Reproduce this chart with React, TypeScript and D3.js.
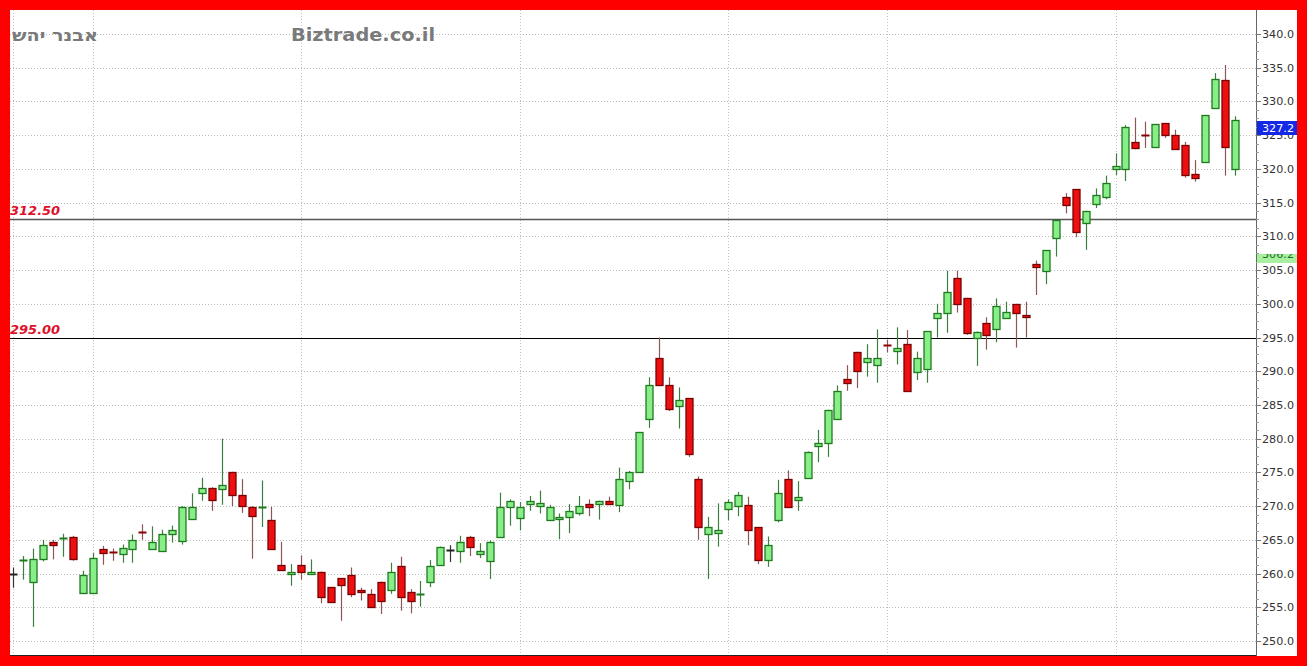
import React from "react";
import * as d3 from "d3";

const opens = [260,261.8,258.8,262.2,264.7,265.1,265.4,257.1,257.1,263.6,263.2,262.9,263.7,266.2,263.7,263.4,265.9,264.8,268.1,272.0,272.7,272.6,275.0,271.7,269.9,269.8,268.0,261.2,260.0,261.2,260.0,260.3,258.0,259.3,259.8,257.5,257.0,258.8,257.6,261.1,257.3,256.9,258.8,261.2,263.5,263.3,265.4,262.9,261.9,265.4,269.8,268.3,270.3,270.0,267.9,268.1,268.4,269.0,270.3,270.3,270.8,270.1,273.7,275.0,282.9,291.9,287.9,284.9,286.0,274.0,265.9,266.0,269.5,270.0,270.2,266.9,262.0,267.9,274.0,270.9,274.1,278.9,279.4,282.9,288.9,292.9,291.3,290.9,293.9,293.0,294.0,289.9,290.4,297.9,298.7,303.8,300.9,294.9,297.2,296.3,297.9,300.0,298.4,305.9,304.9,309.7,315.9,317.0,312.0,314.8,315.8,320.0,320.0,324.0,325.0,323.3,326.8,325.0,323.6,319.3,321.0,329.0,333.2,320.0];
const highs = [260.9,262.6,263.7,265,265,265.9,265.6,260.4,263.1,264.1,263.7,264.3,265.8,267.3,267.0,266.5,267.1,270.0,271.9,274.2,272.8,280.0,275.1,274.0,270.0,273.8,269.9,264.7,261.4,262.7,262.1,260.3,258.0,259.3,260.9,257.9,257.7,258.8,261.6,262.5,257.7,258.9,262.0,264.0,264.2,265.6,265.6,264.5,264.9,272.0,271.0,270.6,271.5,272.3,270.2,268.9,270.3,271.5,271.0,270.8,271.4,275.7,275.2,281.0,289.1,295.0,289.1,287.6,286.0,274.4,268.4,270.4,271.0,272.1,271.4,266.9,265.5,273.9,275.3,273.7,278.1,281.3,284.3,287.9,290.9,292.9,294.0,296.2,294.7,296.5,296.1,292.9,295.9,300.0,304.9,304.9,300.9,295.9,298.0,300.8,300.3,300.0,300.3,306.4,307.9,312.4,316.4,317.0,313.8,317.1,319.0,322.3,326.5,327.6,327.0,326.6,326.8,325.8,324.0,321.3,328.0,334.2,335.4,327.8];
const lows = [257.9,259.1,252.1,261.8,262.1,262.5,261.9,257,257,261.3,261.9,261.6,261.6,265.0,263.6,263.3,264.6,264.3,268.0,270.8,269.3,270.2,270.0,269.0,262.2,266.9,263.5,260.4,258.2,259.1,260.0,255.6,255.7,253.0,256.5,256.0,255.0,254.0,257.0,254.5,254.1,255.1,258.0,261.2,261.7,261.6,262.6,262.3,259.2,265.3,267.1,266.4,269.3,268.9,267.9,265.1,266.0,268.6,268.5,268.0,270.3,269.1,272.5,275.0,281.6,287.9,284.1,281.5,277.3,265.0,259.2,264.0,267.9,268.5,264.2,261.4,261.0,267.6,269.9,269.3,274.1,276.5,277.3,282.9,287.1,287.5,289.2,288.3,292.8,291.0,287.1,288.7,288.3,295.0,295.7,298.7,295.4,290.8,293.2,294.3,297.9,293.5,295.0,301.3,302.9,307.0,313.4,309.9,308.0,314.2,315.5,319.1,318.2,322.9,323.1,323.3,324.6,323.0,318.7,318.1,321.0,329.0,319.0,319.0];
const closes = [260,262,262.1,264.3,264.3,265.3,262.2,259.8,262.3,263.1,263.0,263.8,265.0,266.0,264.7,265.9,266.5,269.9,269.8,272.7,270.9,273.1,271.6,270.0,268.5,269.9,263.6,260.5,260.3,260.2,260.3,256.5,255.8,258.3,256.9,257.2,255.0,255.9,260.3,256.5,256.0,257.0,261.1,264.0,263.5,264.7,264.0,263.3,264.7,269.8,270.7,269.8,270.8,270.5,269.9,268.4,269.3,270.0,269.9,270.8,270.3,274.0,275.0,281.0,287.9,287.9,284.4,285.7,277.7,266.9,266.9,266.5,270.6,271.6,266.4,262.0,264.2,272.0,269.9,271.4,278.0,279.4,284.3,287.0,288.2,290.0,291.9,291.9,293.7,293.5,287.1,291.9,295.9,298.7,301.8,299.9,295.7,295.8,295.4,299.6,298.8,298.6,298.0,305.5,307.9,312.4,314.6,310.7,313.8,316.1,317.9,320.4,326.2,323.1,324.9,326.6,325.0,323.0,319.1,318.6,328.0,333.3,323.3,327.2];

const yTicks = d3.range(250, 341, 5);
const monthStarts = [0, 8, 29, 51, 72, 88, 111];
const levels = [312.5, 295.0];
const lastPrice = 327.2;
const otherPrice = 306.2;

const W = 1307, H = 666;
const plotL = 10, plotR = 1256, plotT = 10, plotB = 655;

export default function App() {
  const n = opens.length;
  const x = d3.scaleLinear().domain([0, n - 1]).range([13.3, 1234.7]);
  const y = d3.scaleLinear().domain([250, 340]).range([641, 34]);
  const minor = d3.range(250, 341.25, 1.25).filter((v) => v % 5 !== 0);
  const bw = 7;
  const lastY = Math.round(y(lastPrice));
  const otherY = Math.round(y(otherPrice));

  return (
    <svg width={W} height={H} style={{ position: "absolute", left: 0, top: 0 }} fontFamily="DejaVu Sans">
      <defs>
        <clipPath id="plot"><rect x={plotL} y={plotT} width={plotR - plotL} height={plotB - plotT} /></clipPath>
        <clipPath id="lab2"><rect x={1256} y={otherY - 8} width={41} height={9} /></clipPath>
      </defs>
      <rect x={0} y={0} width={W} height={H} fill="#ff0000" />
      <rect x={10} y={10} width={1287} height={646} fill="#ffffff" />
      <g clipPath="url(#plot)">
        {yTicks.map((v) => (
          <line key={"h" + v} x1={plotL} x2={plotR} y1={Math.round(y(v)) + 0.5} y2={Math.round(y(v)) + 0.5} stroke="#b8b8b8" strokeDasharray="1,2" />
        ))}
        {monthStarts.map((i) => (
          <line key={"v" + i} x1={Math.round(x(i)) + 0.5} x2={Math.round(x(i)) + 0.5} y1={plotT} y2={plotB} stroke="#c4c4c4" strokeDasharray="1,2" />
        ))}
        <line x1={plotL} x2={plotR} y1={Math.round(y(levels[0])) + 0.5} y2={Math.round(y(levels[0])) + 0.5} stroke="#555" strokeWidth={1.3} />
        <line x1={plotL} x2={plotR} y1={Math.round(y(levels[1])) + 0.5} y2={Math.round(y(levels[1])) + 0.5} stroke="#000" strokeWidth={1.2} />
        {opens.map((o, i) => {
          const c = closes[i];
          const up = c > o + 0.05;
          const down = o > c + 0.05;
          const cx = Math.round(x(i)) + 0.5;
          const top = Math.round(y(Math.max(o, c)));
          const bot = Math.round(y(Math.min(o, c)));
          const wick = up ? "#3d7d3d" : down ? "#8c5656" : "#333";
          const fill = up ? "#88ee88" : down ? "#ee1010" : "#333";
          const stroke = up ? "#1f7a1f" : down ? "#7a0000" : "#222";
          const h = bot - top;
          return (
            <g key={"c" + i}>
              <line x1={cx} x2={cx} y1={y(highs[i])} y2={y(lows[i])} stroke={wick} strokeWidth={1.2} />
              {h >= 2 ? (
                <rect x={cx - bw / 2} y={top + 0.5} width={bw} height={h} fill={fill} stroke={stroke} strokeWidth={1.3} />
              ) : (
                <rect x={cx - bw / 2 - 0.5} y={top - 0.5} width={bw + 1} height={2} fill={up ? "#1f7a1f" : down ? "#8a0000" : "#222"} />
              )}
            </g>
          );
        })}
      </g>
      <line x1={plotL} x2={plotR} y1={655.5} y2={655.5} stroke="#222" />
      <line x1={1256.5} x2={1256.5} y1={plotT} y2={656} stroke="#666" />
      {minor.map((v) => (
        <line key={"m" + v} x1={1256} x2={1259} y1={Math.round(y(v)) + 0.5} y2={Math.round(y(v)) + 0.5} stroke="#999" />
      ))}
      {yTicks.map((v) => (
        <g key={"t" + v}>
          <line x1={1256} x2={1261} y1={Math.round(y(v)) + 0.5} y2={Math.round(y(v)) + 0.5} stroke="#777" />
          <text x={1262} y={y(v) + 4} fontSize={11} fill="#333" textLength={32} lengthAdjust="spacingAndGlyphs">{v.toFixed(1)}</text>
        </g>
      ))}
      <rect x={1257} y={lastY + 1} width={40} height={14} fill="#1428e6" />
      <text x={1262} y={lastY + 12} fontSize={11} fill="#ffffff" textLength={32} lengthAdjust="spacingAndGlyphs">{lastPrice.toFixed(1)}</text>
      <rect x={1257} y={otherY - 8} width={40} height={9} fill="#a6f0a0" />
      <text x={1262} y={otherY - 4} fontSize={11} fill="#1f6a1f" clipPath="url(#lab2)" textLength={32} lengthAdjust="spacingAndGlyphs">{otherPrice.toFixed(1)}</text>
      {levels.map((v) => (
        <text key={"l" + v} x={10} y={y(v) - 4} fontSize={13} fontWeight="bold" fontStyle="italic" fill="#e0102a">{v.toFixed(2)}</text>
      ))}
      <text x={12} y={41} fontSize={17} fontWeight="bold" fill="#7a7a7a" textLength={86} lengthAdjust="spacingAndGlyphs">אבנר יהש</text>
      <text x={291} y={41} fontSize={17} fontWeight="bold" fill="#7a7a7a" textLength={144} lengthAdjust="spacingAndGlyphs">Biztrade.co.il</text>
    </svg>
  );
}
